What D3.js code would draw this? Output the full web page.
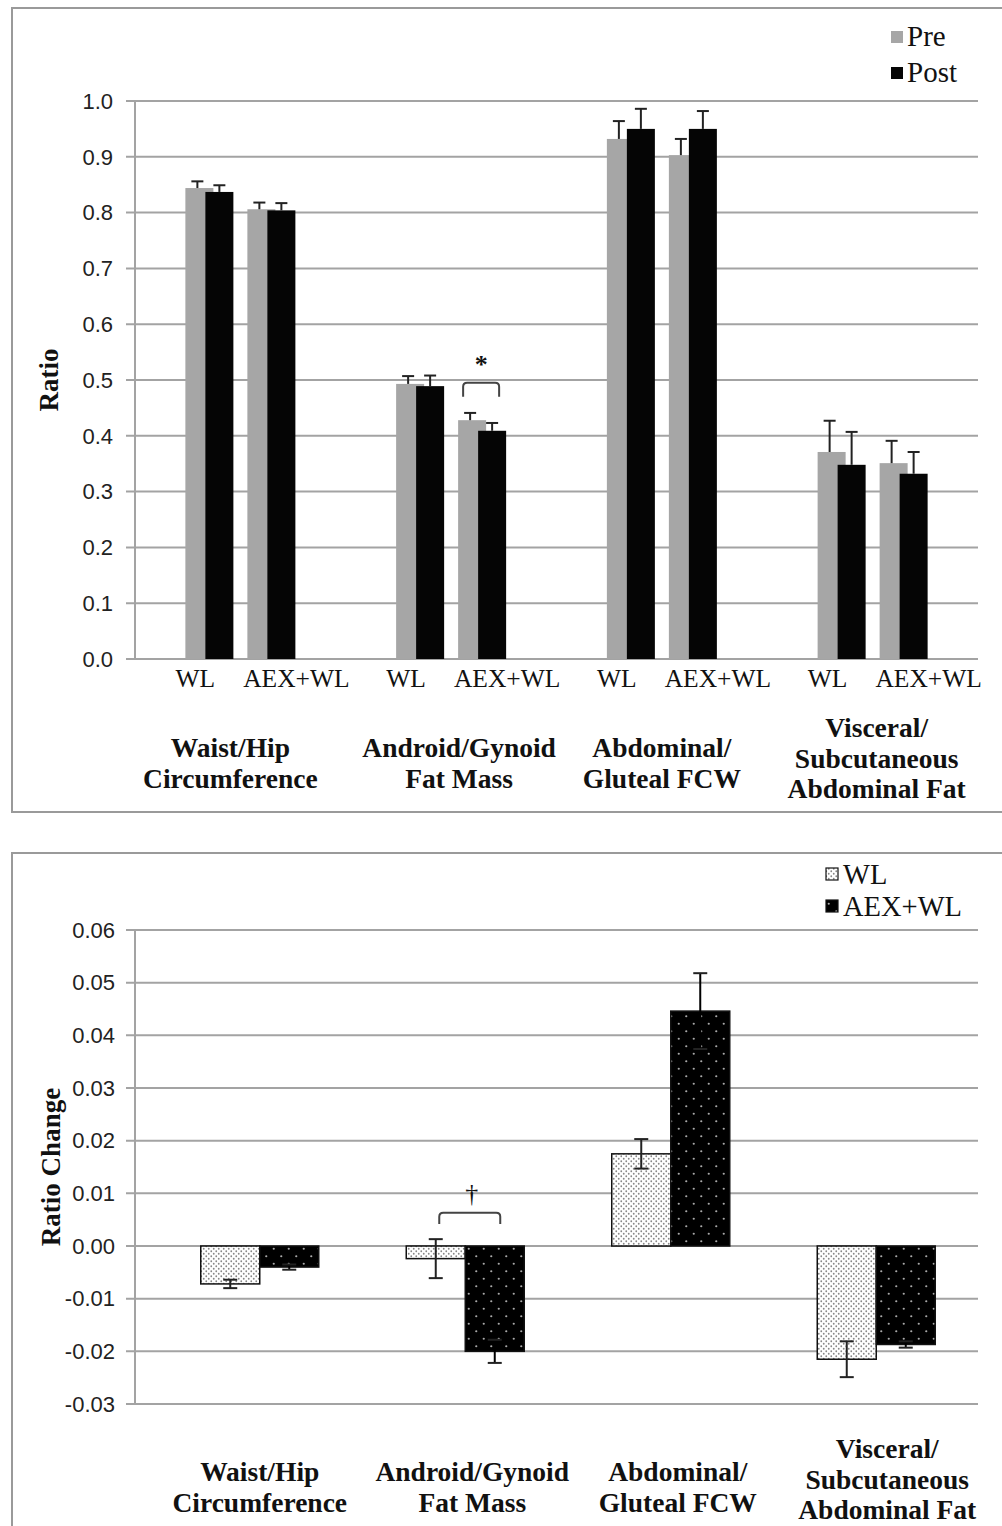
<!DOCTYPE html>
<html>
<head>
<meta charset="utf-8">
<script src="https://cdnjs.cloudflare.com/ajax/libs/d3/7.8.5/d3.min.js"></script>
<style>
  html, body { margin: 0; padding: 0; background: #fff; }
  svg { display: block; }
  .tick-label { font-family: "Liberation Sans", Arial, sans-serif; font-size: 22px; fill: #222; }
  .serif { font-family: "Liberation Serif", "Times New Roman", serif; fill: #111; }
</style>
</head>
<body>
<svg id="chart" width="1002" height="1526"></svg>
<script>
// ---- data ----
const groupLabels = [
  ["Waist/Hip", "Circumference"],
  ["Android/Gynoid", "Fat Mass"],
  ["Abdominal/", "Gluteal FCW"],
  ["Visceral/", "Subcutaneous", "Abdominal Fat"]
];
const groups = ["whr", "agr", "agfcw", "vsat"];
const arms = ["WL", "AEX+WL"];
const timepoints = ["Pre", "Post"];

// ratios per group, WL then AEX+WL
const preWL   = [0.844, 0.493, 0.932, 0.371];
const preWLse = [0.012, 0.014, 0.032, 0.056];
const postWL   = [0.837, 0.489, 0.950, 0.348];
const postWLse = [0.012, 0.019, 0.036, 0.059];
const preAEX   = [0.806, 0.428, 0.903, 0.351];
const preAEXse = [0.012, 0.013, 0.029, 0.040];
const postAEX   = [0.804, 0.409, 0.950, 0.332];
const postAEXse = [0.013, 0.014, 0.032, 0.039];
const topTicks = [0.0, 0.1, 0.2, 0.3, 0.4, 0.5, 0.6, 0.7, 0.8, 0.9, 1.0];

// change in ratio (post - pre)
const changeWL    = [-0.0072, -0.0024, 0.0175, -0.0215];
const changeWLse  = [0.0008, 0.0037, 0.0028, 0.0034];
const changeAEX   = [-0.0040, -0.0200, 0.0446, -0.0187];
const changeAEXse = [0.0005, 0.0022, 0.0072, 0.0006];
const bottomTicks = [-0.03, -0.02, -0.01, 0.00, 0.01, 0.02, 0.03, 0.04, 0.05, 0.06];

const svg = d3.select("#chart");
const gridColor = "#a3a3a3";
const fmt2 = d => d3.format(".2f")(d).replace("\u2212", "-");

// horizontal nudges of the multi-line group captions (text box placement)
const upCaptionShift = [-10, 8, 0, 4];
const lowCaptionShift = [0, 7, 7, 11];

// ---- panel frames ----
svg.append("rect").attr("x", 12).attr("y", 8).attr("width", 1000).attr("height", 804)
  .attr("fill", "#fff").attr("stroke", "#9a9a9a").attr("stroke-width", 2);
svg.append("rect").attr("x", 12).attr("y", 853).attr("width", 1000).attr("height", 700)
  .attr("fill", "#fff").attr("stroke", "#9a9a9a").attr("stroke-width", 2);

// ---- patterns ----
const defs = svg.append("defs");
const pWL = defs.append("pattern").attr("id", "patWL").attr("patternUnits", "userSpaceOnUse")
  .attr("width", 5).attr("height", 5);
pWL.append("rect").attr("width", 5).attr("height", 5).attr("fill", "#fff");
pWL.append("circle").attr("cx", 1.25).attr("cy", 1.25).attr("r", 0.9).attr("fill", "#888");
pWL.append("circle").attr("cx", 3.75).attr("cy", 3.75).attr("r", 0.9).attr("fill", "#888");
const pAEX = defs.append("pattern").attr("id", "patAEX").attr("patternUnits", "userSpaceOnUse")
  .attr("width", 15).attr("height", 15);
pAEX.append("rect").attr("width", 15).attr("height", 15).attr("fill", "#000");
pAEX.append("circle").attr("cx", 3.75).attr("cy", 3.75).attr("r", 1.1).attr("fill", "#aaa");
pAEX.append("circle").attr("cx", 11.25).attr("cy", 11.25).attr("r", 1.1).attr("fill", "#aaa");

function groupLabel(parent, lines, cy, cx) {
  const t = parent.append("text").attr("class", "serif").attr("text-anchor", "middle")
    .attr("font-weight", "bold").attr("font-size", 27.5);
  const lh = 30.5;
  const y0 = cy - (lines.length - 1) * lh / 2;
  lines.forEach((s, k) => {
    t.append("tspan").attr("x", cx).attr("y", y0 + k * lh).attr("dy", "0.35em").text(s);
  });
}
function bracket(parent, x1, x2, yb, yl) {
  parent.append("path")
    .attr("d", `M${x1},${yl} L${x1},${yb + 4} Q${x1},${yb} ${x1 + 4},${yb} L${x2 - 4},${yb} Q${x2},${yb} ${x2},${yb + 4} L${x2},${yl}`)
    .attr("fill", "none").attr("stroke", "#444").attr("stroke-width", 2);
}

// =============== upper chart ===============
const upBox = { left: 135, right: 978, top: 101, bottom: 659 };
const yTop = d3.scaleLinear().domain([0, 1]).range([upBox.bottom, upBox.top]);
const xTopGroup = d3.scaleBand().domain(groups).range([upBox.left, upBox.right]);
const xTopArm = d3.scaleBand().domain(arms).range([-62, 62]);
const xTopTime = d3.scalePoint().domain(timepoints).range([-10, 10]);
const topBarW = 28;

const gTop = svg.append("g");
gTop.selectAll("line.grid").data(topTicks).join("line")
  .attr("x1", upBox.left - 9).attr("x2", upBox.right)
  .attr("y1", d => yTop(d)).attr("y2", d => yTop(d))
  .attr("stroke", gridColor).attr("stroke-width", 2);
gTop.append("line").attr("x1", upBox.left).attr("x2", upBox.left)
  .attr("y1", yTop(1)).attr("y2", yTop(0)).attr("stroke", gridColor).attr("stroke-width", 2);
gTop.selectAll("text.tick").data(topTicks).join("text")
  .attr("class", "tick-label").attr("text-anchor", "end")
  .attr("x", 113).attr("y", d => yTop(d)).attr("dy", "0.35em")
  .text(d => d3.format(".1f")(d));

const topRows = [];
groups.forEach((g, i) => {
  topRows.push({ g, arm: "WL", t: "Pre", v: preWL[i], se: preWLse[i] });
  topRows.push({ g, arm: "WL", t: "Post", v: postWL[i], se: postWLse[i] });
  topRows.push({ g, arm: "AEX+WL", t: "Pre", v: preAEX[i], se: preAEXse[i] });
  topRows.push({ g, arm: "AEX+WL", t: "Post", v: postAEX[i], se: postAEXse[i] });
});
const topCx = d => xTopGroup(d.g) + xTopGroup.bandwidth() / 2 + xTopArm(d.arm) + xTopArm.bandwidth() / 2 + xTopTime(d.t);
const topColor = { Pre: "#a6a6a6", Post: "#050505" };

// pre bars first, post bars drawn over them
const topOrdered = topRows.filter(d => d.t === "Pre").concat(topRows.filter(d => d.t === "Post"));
gTop.selectAll("rect.bar").data(topOrdered).join("rect")
  .attr("x", d => topCx(d) - topBarW / 2)
  .attr("y", d => yTop(d.v))
  .attr("width", topBarW)
  .attr("height", d => yTop(0) - yTop(d.v))
  .attr("fill", d => topColor[d.t]);
const topErr = gTop.append("g");
topErr.selectAll("g").data(topOrdered).join("g").each(function(d) {
  const g = d3.select(this);
  const cx = topCx(d) - (d.t === "Pre" ? 2 : 0);
  g.append("line").attr("x1", cx).attr("x2", cx).attr("y1", yTop(d.v)).attr("y2", yTop(d.v + d.se))
    .attr("stroke", "#222").attr("stroke-width", 2);
  g.append("line").attr("x1", cx - 6).attr("x2", cx + 6).attr("y1", yTop(d.v + d.se)).attr("y2", yTop(d.v + d.se))
    .attr("stroke", "#222").attr("stroke-width", 2);
});

// significance bracket: AEX+WL android/gynoid pre vs post
(function() {
  const pre = topRows.find(d => d.g === groups[1] && d.arm === "AEX+WL" && d.t === "Pre");
  const post = topRows.find(d => d.g === groups[1] && d.arm === "AEX+WL" && d.t === "Post");
  const x1 = topCx(pre) - 9, x2 = topCx(post) + 7;
  bracket(gTop, x1, x2, yTop(0.495), yTop(0.470));
  gTop.append("text").attr("class", "serif").attr("text-anchor", "middle").attr("font-weight", "bold")
    .attr("x", (x1 + x2) / 2).attr("y", yTop(0.512)).attr("font-size", 26).text("*");
})();

// category labels
const armLabelOffset = { "WL": -45, "AEX+WL": 56 };
groups.forEach(g => {
  arms.forEach(a => {
    gTop.append("text").attr("class", "serif").attr("text-anchor", "middle")
      .attr("x", xTopGroup(g) + xTopGroup.bandwidth() / 2 + armLabelOffset[a])
      .attr("y", 687).attr("font-size", 25.5).text(a);
  });
});
groups.forEach((g, i) => {
  groupLabel(gTop, groupLabels[i], i === 3 ? 758 : 763,
    xTopGroup(g) + xTopGroup.bandwidth() / 2 + upCaptionShift[i]);
});

svg.append("text").attr("class", "serif").attr("font-weight", "bold").attr("font-size", 27)
  .attr("text-anchor", "middle").attr("transform", `translate(58,${(upBox.top + upBox.bottom) / 2}) rotate(-90)`)
  .text("Ratio");

const legTop = svg.append("g");
timepoints.forEach((t, k) => {
  legTop.append("rect").attr("x", 891).attr("y", 31 + k * 36).attr("width", 12).attr("height", 12)
    .attr("fill", topColor[t]);
  legTop.append("text").attr("class", "serif").attr("font-size", 29)
    .attr("x", 907).attr("y", 46 + k * 36).text(t);
});

// =============== lower chart ===============
const lowBox = { left: 135, right: 978, top: 930, bottom: 1404 };
const yBot = d3.scaleLinear().domain([-0.03, 0.06]).range([lowBox.bottom, lowBox.top]);
const xBotGroup = d3.scaleBand().domain(groups).range([157, 979]);
const xBotArm = d3.scaleBand().domain(arms).range([-59, 59]);

const gBot = svg.append("g");
gBot.selectAll("line.grid").data(bottomTicks).join("line")
  .attr("x1", lowBox.left - 9).attr("x2", lowBox.right)
  .attr("y1", d => yBot(d)).attr("y2", d => yBot(d))
  .attr("stroke", gridColor).attr("stroke-width", 2);
gBot.append("line").attr("x1", lowBox.left).attr("x2", lowBox.left)
  .attr("y1", yBot(0.06)).attr("y2", yBot(-0.03)).attr("stroke", gridColor).attr("stroke-width", 2);
gBot.selectAll("text.tick").data(bottomTicks).join("text")
  .attr("class", "tick-label").attr("text-anchor", "end")
  .attr("x", 115).attr("y", d => yBot(d)).attr("dy", "0.35em")
  .text(fmt2);

const botRows = [];
groups.forEach((g, i) => {
  botRows.push({ g, arm: "WL", v: changeWL[i], se: changeWLse[i] });
  botRows.push({ g, arm: "AEX+WL", v: changeAEX[i], se: changeAEXse[i] });
});
const botX = d => xBotGroup(d.g) + xBotGroup.bandwidth() / 2 + xBotArm(d.arm);
gBot.selectAll("rect.bar").data(botRows).join("rect")
  .attr("x", botX)
  .attr("y", d => yBot(Math.max(0, d.v)))
  .attr("width", xBotArm.bandwidth())
  .attr("height", d => Math.abs(yBot(d.v) - yBot(0)))
  .attr("fill", d => d.arm === "WL" ? "url(#patWL)" : "url(#patAEX)")
  .attr("stroke", "#111").attr("stroke-width", 1.5);
gBot.selectAll("g.err").data(botRows).join("g").each(function(d) {
  const g = d3.select(this);
  const cx = botX(d) + xBotArm.bandwidth() / 2;
  const y1 = yBot(d.v - d.se), y2 = yBot(d.v + d.se);
  g.append("line").attr("x1", cx).attr("x2", cx).attr("y1", y1).attr("y2", y2)
    .attr("stroke", d.arm === "WL" ? "#222" : "#000").attr("stroke-width", 2);
  [y1, y2].forEach(y => g.append("line").attr("x1", cx - 7).attr("x2", cx + 7).attr("y1", y).attr("y2", y)
    .attr("stroke", "#222").attr("stroke-width", 2));
});

// trend marker: android/gynoid WL vs AEX+WL
(function() {
  const c = xBotGroup(groups[1]) + xBotGroup.bandwidth() / 2;
  const x1 = c - 26, x2 = c + 35;
  bracket(gBot, x1, x2, yBot(0.0063), yBot(0.0042));
  gBot.append("text").attr("class", "serif").attr("text-anchor", "middle")
    .attr("x", (x1 + x2) / 2 + 2).attr("y", yBot(0.0083)).attr("font-size", 26).text("\u2020");
})();

groups.forEach((g, i) => {
  groupLabel(gBot, groupLabels[i], i === 3 ? 1479 : 1487,
    xBotGroup(g) + xBotGroup.bandwidth() / 2 + lowCaptionShift[i]);
});

svg.append("text").attr("class", "serif").attr("font-weight", "bold").attr("font-size", 27)
  .attr("text-anchor", "middle").attr("transform", `translate(60,${(lowBox.top + lowBox.bottom) / 2}) rotate(-90)`)
  .text("Ratio Change");

const legBot = svg.append("g");
arms.forEach((a, k) => {
  legBot.append("rect").attr("x", 826).attr("y", 868 + k * 32).attr("width", 12).attr("height", 12)
    .attr("fill", a === "WL" ? "url(#patWL)" : "url(#patAEX)").attr("stroke", "#111").attr("stroke-width", 1.2);
  legBot.append("text").attr("class", "serif").attr("font-size", 28.5)
    .attr("x", 843).attr("y", 884 + k * 32).text(a);
});
</script>
</body>
</html>
